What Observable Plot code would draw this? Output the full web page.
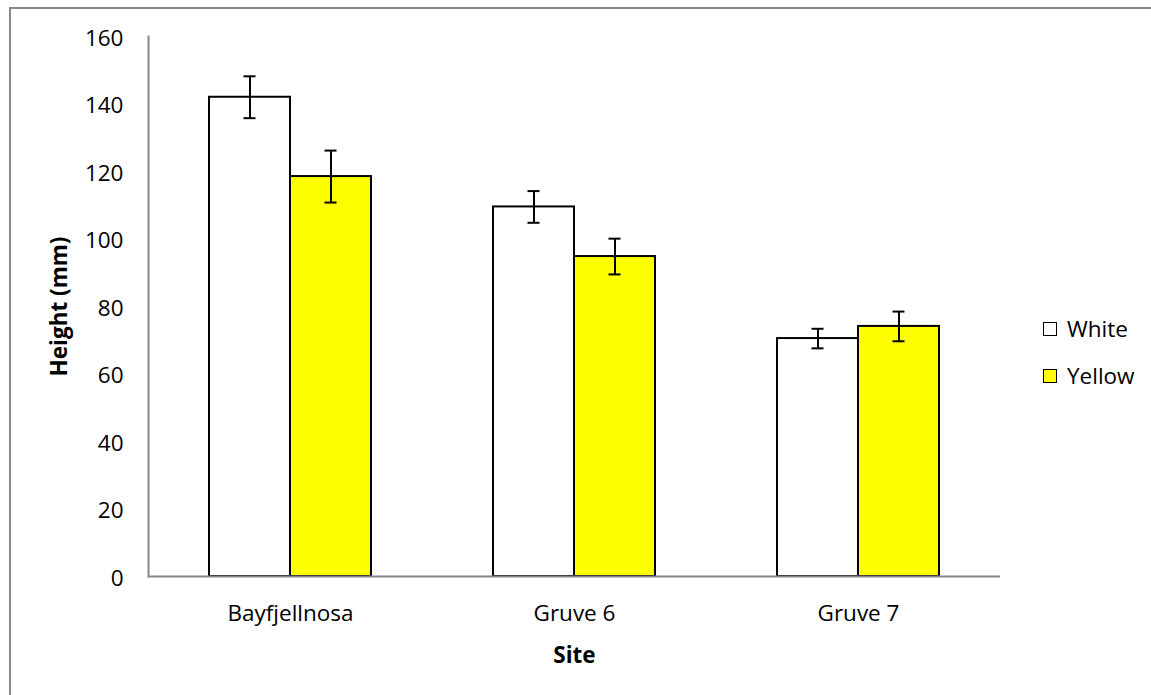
<!DOCTYPE html>
<html>
<head>
<meta charset="utf-8">
<script src="https://cdn.jsdelivr.net/npm/d3@7"></script>
<script src="https://cdn.jsdelivr.net/npm/@observablehq/plot@0.6"></script>
<style>
  html, body { margin: 0; padding: 0; background: #fff; overflow: hidden; }
  #wrap { position: relative; width: 1151px; height: 695px; }
  #border { position: absolute; left: 9px; top: 7px; width: 1300px; height: 900px; border: 2px solid #888; box-sizing: border-box; pointer-events: none; }
  #chart { position: absolute; left: 0; top: 0; }
  #chart g[aria-label="y-axis label"] text, #chart g[aria-label="fx-axis label"] text { font-weight: bold; }
  .leg { position: absolute; left: 1043px; font-family: "Open Sans", sans-serif; font-size: 22.5px; color: #000; display: flex; align-items: center; }
  .sw { width: 14px; height: 14px; border: 1.5px solid #000; box-sizing: border-box; margin-right: 10px; }
</style>
</head>
<body>
<div id="wrap">
  <div id="chart"></div>
  <div id="border"></div>
</div>
<script>
const sites = ["Bayfjellnosa", "Gruve 6", "Gruve 7"];
const colors = ["White", "Yellow"];
const colorFills = ["#ffffff", "#ffff00"];
const whiteMean = [142.0, 109.5, 70.5];
const whiteErr = [6.2, 4.7, 2.9];
const yellowMean = [118.5, 94.8, 74.1];
const yellowErr = [7.7, 5.3, 4.4];
const yTicks = [0, 20, 40, 60, 80, 100, 120, 140, 160];

const data = [];
sites.forEach((s, i) => {
  data.push({site: s, color: "White", value: whiteMean[i], err: whiteErr[i]});
  data.push({site: s, color: "Yellow", value: yellowMean[i], err: yellowErr[i]});
});

const chart = Plot.plot({
  width: 1151,
  height: 695,
  marginLeft: 148,
  marginRight: 151,
  marginTop: 36,
  marginBottom: 119,
  style: {fontFamily: "'Open Sans', sans-serif", fontSize: "22.5px", color: "#000", background: "transparent", overflow: "visible"},
  fx: {domain: sites, padding: 0, label: "Site"},
  x: {domain: colors, paddingInner: 0, paddingOuter: 0.75, axis: null},
  y: {domain: [0, 160], label: "Height (mm)"},
  color: {domain: colors, range: colorFills},
  marks: [
    Plot.barY(data, {fx: "site", x: "color", y: "value", fill: "color", stroke: "#000", strokeWidth: 2}),
    Plot.ruleY([0], {stroke: "#888", strokeWidth: 2}),
    Plot.frame({anchor: "left", facetAnchor: "left", stroke: "#888", strokeWidth: 2}),
    Plot.ruleX(data, {fx: "site", x: "color", y1: d => d.value - d.err, y2: d => d.value + d.err, stroke: "#000", strokeWidth: 2}),
    Plot.tickY(data, {fx: "site", x: "color", y: d => d.value - d.err, insetLeft: 34.5, insetRight: 34.5, stroke: "#000", strokeWidth: 2}),
    Plot.tickY(data, {fx: "site", x: "color", y: d => d.value + d.err, insetLeft: 34.5, insetRight: 34.5, stroke: "#000", strokeWidth: 2}),
    Plot.axisY({ticks: yTicks, tickSize: 0, tickPadding: 25, dy: 2, tickFormat: d => String(d), label: "Height (mm)", labelAnchor: "center", labelArrow: "none", labelOffset: 97}),
    Plot.axisFx({anchor: "bottom", tickSize: 0, tickPadding: 29, label: "Site", labelAnchor: "center", labelArrow: "none", labelOffset: 86})
  ]
});
document.getElementById("chart").appendChild(chart);

const legTops = [321, 368];
colors.forEach((c, i) => {
  const row = document.createElement("div");
  row.className = "leg";
  row.style.top = (legTops[i] - 8) + "px";
  const sw = document.createElement("div");
  sw.className = "sw";
  sw.style.background = colorFills[i];
  const tx = document.createElement("span");
  tx.textContent = c;
  row.appendChild(sw);
  row.appendChild(tx);
  document.getElementById("wrap").appendChild(row);
});
</script>
</body>
</html>
